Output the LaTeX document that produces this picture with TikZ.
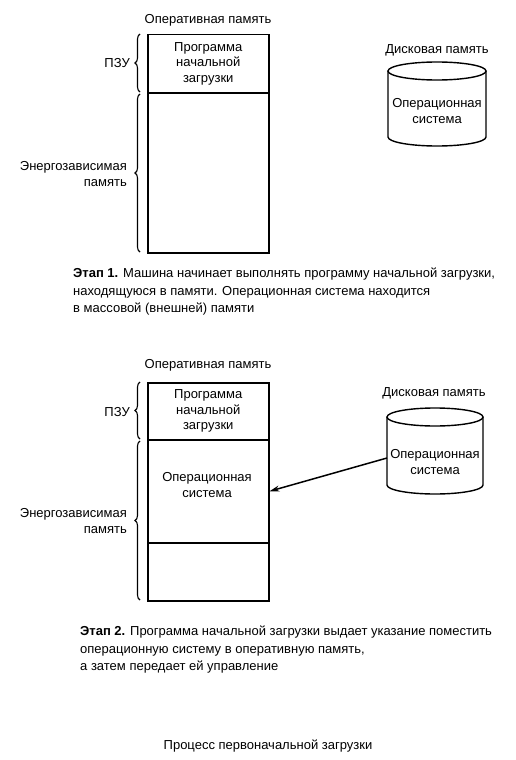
\documentclass[tikz,border=0pt]{standalone}
\usepackage{fontspec}
\setmainfont{Liberation Sans}
\usetikzlibrary{decorations.pathreplacing,arrows.meta}

\tikzset{
  cell/.style={draw, line width=1.5pt, minimum width=121pt, inner sep=0pt, align=center, anchor=north west},
  memlabel/.style={align=right, anchor=east, inner sep=0pt},
  membrace/.style={decorate, decoration={brace, amplitude=5pt}, line width=1.1pt},
  caption/.style={align=left, anchor=north west, inner sep=0pt, font=\fontsize{13}{17.5}\selectfont},
  disk/.style={line width=1.4pt}
}

\begin{document}
\begin{tikzpicture}[x=1pt, y=-1pt, font=\fontsize{13}{15.5}\selectfont]
\useasboundingbox (0,0) rectangle (515,760);

% Stage 1: memory.
\node (ram1) at (208,20) {Оперативная память};
\node[cell, minimum height=58pt] (rom1) at (147,34) {Программа\\начальной\\загрузки};
\node[cell, minimum height=160pt] (nvm1) at (147,92) {};

\draw[membrace] (140,252) -- (140,94);
\draw[membrace] (140,92) -- (140,34);
\node[memlabel] (rom1lbl) at (130,63) {ПЗУ};
\node[memlabel] (nvm1lbl) at (127,174) {Энергозависимая\\память};

% Stage 1: disk.
\node (disk1) at (437,50) {Дисковая память};
\draw[disk] (437,71) ellipse[x radius=49, y radius=9];
\draw[disk] (388,71) -- (388,137) arc[start angle=180, end angle=0, x radius=49, y radius=9] -- (486,71);
\node[align=center] (os1) at (437,111) {Операционная\\система};

\node[caption] (step1) at (73,268) {\textbf{Этап 1.} Машина начинает выполнять программу начальной загрузки,\\
находящуюся в памяти. Операционная система находится\\
в массовой (внешней) памяти};

% Stage 2: memory.
\node (ram2) at (208,365) {Оперативная память};
\node[cell, minimum height=57pt] (rom2) at (147,382) {Программа\\начальной\\загрузки};
\node[cell, minimum height=103pt] (os2) at (147,439) {};
\node[cell, minimum height=58pt] (free2) at (147,542) {};
\node[align=center] (os2txt) at (207,485) {Операционная\\система};

\draw[membrace] (140,600) -- (140,441);
\draw[membrace] (140,439) -- (140,382);
\node[memlabel] (rom2lbl) at (130,412) {ПЗУ};
\node[memlabel] (nvm2lbl) at (127,521) {Энергозависимая\\память};

% Stage 2: disk.
\node (disk2) at (434,393) {Дисковая память};
\draw[disk] (435,417) ellipse[x radius=48, y radius=9];
\draw[disk] (387,417) -- (387,485) arc[start angle=180, end angle=0, x radius=48, y radius=9] -- (483,417);
\node[align=center] (os2disk) at (435,462) {Операционная\\система};
\coordinate (disk2w) at (387,458);

% Load the system.
\draw[-{Stealth[length=10pt, width=6pt]}, line width=1.5pt] (disk2w) -- (os2.east);

\node[caption] (step2) at (80,626) {\textbf{Этап 2.} Программа начальной загрузки выдает указание поместить\\
операционную систему в оперативную память,\\
а затем передает ей управление};

\node (title) at (268,746) {Процесс первоначальной загрузки};

\end{tikzpicture}
\end{document}
